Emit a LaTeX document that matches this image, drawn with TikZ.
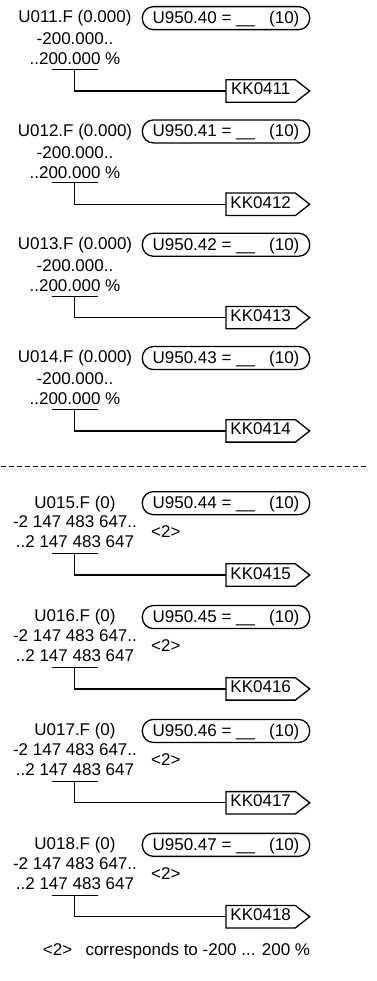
\documentclass[tikz,border=0pt]{standalone}
\usepackage{fontspec}
\setmainfont{Liberation Sans}
\begin{document}
\begin{tikzpicture}[x=1pt,y=-1pt,
  every node/.style={inner sep=0pt, font=\fontsize{17}{20}\selectfont},
  txt/.style={anchor=base},
  parbox/.style={draw, line width=1.3pt, rounded corners=11pt, anchor=north west,
    minimum height=23pt, minimum width=167.3pt,
    text height=13pt, text depth=2pt},
  kk/.style={minimum width=69pt, minimum height=22pt, anchor=west,
    text height=10pt, text depth=2pt},
  kkline/.style={line width=1.3pt},
  wire/.style={line width=1.2pt}]
\useasboundingbox (0,0) rectangle (376,981);
% upper blocks
\foreach \i in {0,...,3}{
  \pgfmathsetmacro\T{6+113.3*\i}
  \pgfmathtruncatemacro\n{\i+1}
  \pgfmathtruncatemacro\m{\i}
  \node[txt] (pa\n) at (75,\T+17) {U01\n.F (0.000)};
  \node[txt] (pb\n) at (75,\T+39) {-200.000..};
  \node[txt] (pc\n) at (75,\T+59) {..200.000 \%};
  \node[parbox] (box\n) at (141.7,\T) {U950.4\m{} = \_\_\hspace{14pt}(10)};
  \coordinate (ul\n) at (51.7,\T+63.5);
  \coordinate (ur\n) at (97.7,\T+63.5);
  \coordinate (um\n) at (74.7,\T+63.5);
  \node[kk] (kk\n) at (226,\T+85) {KK041\n};
  \draw[wire] (ul\n) -- (ur\n);
  \draw[wire] (um\n) |- (kk\n.west);
  \draw[kkline] (kk\n.north west) -- (kk\n.north east) -- ([xshift=14.3pt]kk\n.east)
     -- (kk\n.south east) -- (kk\n.south west) -- cycle;
}
% separator
\coordinate (dl) at (1,466.7);
\coordinate (dr) at (367,466.7);
\draw[wire, dash pattern=on 5pt off 3pt] (dl) -- (dr);
% lower blocks
\foreach \i in {0,...,3}{
  \pgfmathsetmacro\T{491+113.9*\i}
  \pgfmathtruncatemacro\n{\i+5}
  \pgfmathtruncatemacro\m{\i+4}
  \node[txt] (pa\n) at (75,\T+17) {U01\n.F (0)};
  \node[txt] (pb\n) at (75,\T+36.5) {-2 147 483 647..};
  \node[txt] (pc\n) at (75,\T+56.5) {..2 147 483 647};
  \node[anchor=base west] (nt\n) at (151,\T+46.5) {<2>};
  \node[parbox] (box\n) at (141.7,\T) {U950.4\m{} = \_\_\hspace{14pt}(10)};
  \coordinate (ul\n) at (51.7,\T+62.5);
  \coordinate (ur\n) at (97.7,\T+62.5);
  \coordinate (um\n) at (74.7,\T+62.5);
  \node[kk] (kk\n) at (226,\T+84) {KK041\n};
  \draw[wire] (ul\n) -- (ur\n);
  \draw[wire] (um\n) |- (kk\n.west);
  \draw[kkline] (kk\n.north west) -- (kk\n.north east) -- ([xshift=14.3pt]kk\n.east)
     -- (kk\n.south east) -- (kk\n.south west) -- cycle;
}
\node[anchor=base west] (foot) at (42.7,955) {<2>\hspace{13.3pt}corresponds to -200 ... 200 \%};
\end{tikzpicture}
\end{document}
